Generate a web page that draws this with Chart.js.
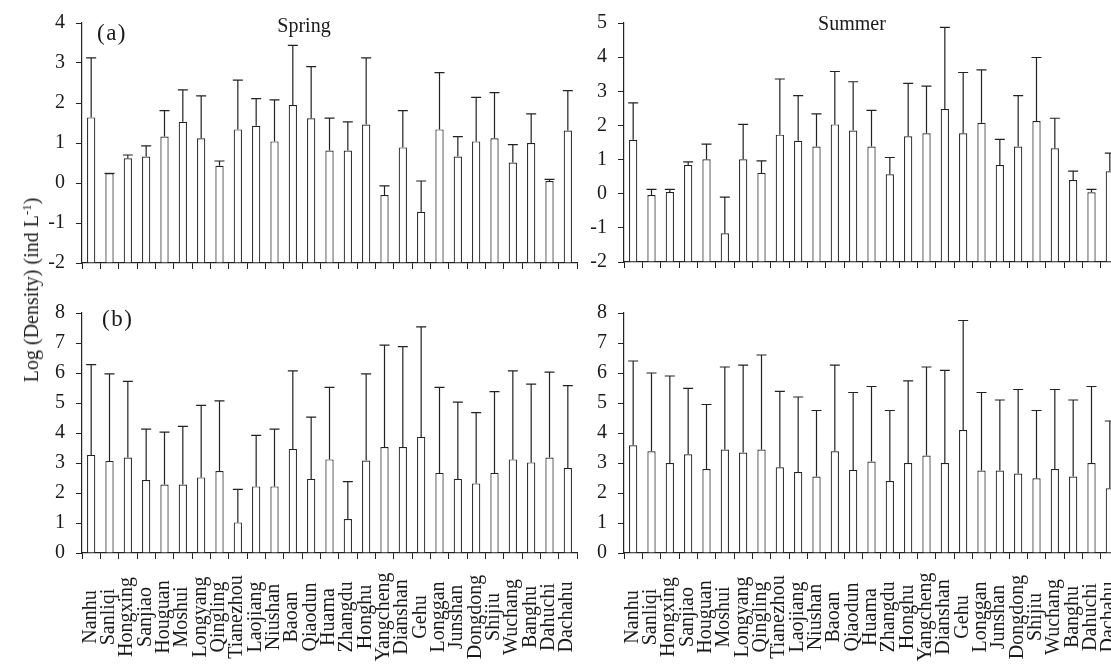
<!DOCTYPE html>
<html>
<head>
<meta charset="utf-8">
<script src="https://cdn.jsdelivr.net/npm/chart.js@4.4.1/dist/chart.umd.min.js"></script>
<style>
  body { margin: 0; width: 1111px; height: 664px; overflow: hidden; background: #fff; position: relative;
         font-family: 'Liberation Serif', serif; color: #1a1a1a; }
  canvas { position: absolute; }
  .txt { position: absolute; font-size: 20px; line-height: 20px; white-space: nowrap; }
  .tag { font-size: 23px; line-height: 23px; letter-spacing: 1.5px; }
  .ytitle { position: absolute; left: 31px; top: 290px; font-size: 20px; line-height: 20px; white-space: nowrap;
            transform: translate(-50%, -50%) rotate(-90deg); }
  .ytitle sup { font-size: 13px; vertical-align: 7px; line-height: 0; }
</style>
</head>
<body>
<canvas id="springA" width="600" height="290" style="left:0;top:0"></canvas>
<canvas id="summerA" width="600" height="290" style="left:542px;top:0"></canvas>
<canvas id="springB" width="600" height="374" style="left:0;top:290px"></canvas>
<canvas id="summerB" width="600" height="374" style="left:542px;top:290px"></canvas>

<div class="txt tag" style="left:97px;top:21px">(a)</div>
<div class="txt tag" style="left:102px;top:307px">(b)</div>
<div class="txt" style="left:304px;top:15px;transform:translateX(-50%)">Spring</div>
<div class="txt" style="left:852px;top:13px;transform:translateX(-50%)">Summer</div>
<div class="ytitle">Log (Density) (ind L<sup>-1</sup>)</div>

<script>
// sampling sites (same order in every panel)
const sites = ['Nanhu', 'Sanliqi', 'Hongxing', 'Sanjiao', 'Houguan', 'Moshui', 'Longyang', 'Qingling',
    'Tianezhou', 'Laojiang', 'Niushan', 'Baoan', 'Qiaodun', 'Huama', 'Zhangdu', 'Honghu', 'Yangcheng',
    'Dianshan', 'Gehu', 'Longgan', 'Junshan', 'Dongdong', 'Shijiu', 'Wuchang', 'Banghu', 'Dahuchi', 'Dachahu'];

// (a) mean and SD, spring / summer
const springA = [1.64, 0.24, 0.62, 0.66, 1.16, 1.53, 1.12, 0.43, 1.34, 1.43, 1.04, 1.95, 1.62, 0.81,
    0.81, 1.46, -0.30, 0.89, -0.72, 1.34, 0.66, 1.04, 1.12, 0.51, 1.00, 0.05, 1.31];
const springASd = [1.49, 0.00, 0.08, 0.27, 0.65, 0.80, 1.06, 0.12, 1.23, 0.68, 1.04, 1.49, 1.29, 0.81,
    0.72, 1.67, 0.23, 0.92, 0.77, 1.42, 0.50, 1.10, 1.14, 0.45, 0.73, 0.04, 1.00];
const summerA = [1.58, -0.04, 0.05, 0.84, 1.01, -1.16, 1.01, 0.61, 1.73, 1.55, 1.38, 2.03, 1.85, 1.38,
    0.57, 1.68, 1.77, 2.48, 1.77, 2.08, 0.84, 1.38, 2.13, 1.33, 0.40, 0.04, 0.66];
const summerASd = [1.08, 0.17, 0.08, 0.09, 0.44, 1.06, 1.02, 0.35, 1.63, 1.32, 0.96, 1.55, 1.43, 1.06,
    0.49, 1.55, 1.38, 2.39, 1.78, 1.55, 0.75, 1.49, 1.86, 0.88, 0.26, 0.09, 0.53];

// (b) mean and SD, spring / summer
const springB = [3.27, 3.07, 3.18, 2.43, 2.28, 2.28, 2.52, 2.73, 1.02, 2.22, 2.22, 3.47, 2.47, 3.12,
    1.13, 3.08, 3.53, 3.53, 3.87, 2.67, 2.47, 2.32, 2.67, 3.12, 3.02, 3.18, 2.83];
const springBSd = [3.01, 2.90, 2.54, 1.70, 1.75, 1.94, 2.40, 2.34, 1.10, 1.70, 1.91, 2.60, 2.06, 2.40,
    1.25, 2.89, 3.40, 3.35, 3.67, 2.85, 2.56, 2.36, 2.71, 2.95, 2.61, 2.85, 2.75];
const summerB = [3.59, 3.39, 3.00, 3.29, 2.80, 3.45, 3.35, 3.45, 2.86, 2.70, 2.55, 3.39, 2.77, 3.05,
    2.40, 3.00, 3.25, 3.00, 4.10, 2.75, 2.75, 2.65, 2.49, 2.80, 2.55, 3.00, 2.16];
const summerBSd = [2.81, 2.61, 2.90, 2.20, 2.15, 2.75, 2.91, 3.15, 2.53, 2.50, 2.20, 2.87, 2.58, 2.50,
    2.35, 2.74, 2.95, 3.09, 3.65, 2.60, 2.35, 2.80, 2.26, 2.65, 2.55, 2.55, 2.24];

Chart.defaults.font.family = "'Liberation Serif', serif";
Chart.defaults.font.size = 20;
Chart.defaults.color = '#1a1a1a';

const ink = '#222';

// upper error whisker with a cap, drawn on the value scale
const errorBars = {
    id: 'errorBars',
    afterDatasetsDraw(chart, args, opts) {
        const ctx = chart.ctx, y = chart.scales.y;
        const vals = chart.data.datasets[0].data;
        ctx.save();
        ctx.strokeStyle = ink;
        ctx.lineWidth = 1.2;
        chart.getDatasetMeta(0).data.forEach((bar, i) => {
            const top = y.getPixelForValue(vals[i] + opts.sd[i]);
            ctx.beginPath();
            ctx.moveTo(bar.x, bar.y);
            ctx.lineTo(bar.x, top);
            ctx.moveTo(bar.x - 5, top);
            ctx.lineTo(bar.x + 5, top);
            ctx.stroke();
        });
        ctx.restore();
    }
};

// vertical site names, centred under each category
const siteLabels = {
    id: 'siteLabels',
    afterDraw(chart, args, opts) {
        if (!opts.show) return;
        const ctx = chart.ctx, x = chart.scales.x;
        ctx.save();
        ctx.font = "20px 'Liberation Serif'";
        ctx.fillStyle = '#1a1a1a';
        ctx.textAlign = 'center';
        chart.data.labels.forEach((s, i) => {
            ctx.save();
            ctx.translate(x.getPixelForTick(i) + 4.5, x.top + 64);
            ctx.rotate(-Math.PI / 2);
            ctx.fillText(s, 0, 0);
            ctx.restore();
        });
        ctx.restore();
    }
};

function makePanel(id, values, sd, yMin, yMax, padTop, xHeight, showSites) {
    const ctx = document.getElementById(id).getContext('2d');
    return new Chart(ctx, {
        type: 'bar',
        data: {
            labels: sites,
            datasets: [{
                data: values,
                base: yMin,
                backgroundColor: '#fff',
                borderColor: ink,
                borderWidth: 1.2,
                barPercentage: 0.45,
                categoryPercentage: 1
            }]
        },
        options: {
            responsive: false,
            animation: false,
            layout: { padding: { top: padTop, right: 23, left: 0, bottom: 0 } },
            plugins: {
                legend: { display: false },
                tooltip: { enabled: false },
                errorBars: { sd: sd },
                siteLabels: { show: showSites }
            },
            scales: {
                x: {
                    grid: { drawOnChartArea: false, tickLength: 6, color: ink, offset: true },
                    border: { color: ink, width: 1.2 },
                    ticks: { display: false },
                    afterFit(s) { s.height = xHeight; }
                },
                y: {
                    min: yMin,
                    max: yMax,
                    ticks: { stepSize: 1, padding: 11 },
                    grid: { drawOnChartArea: false, tickLength: 6, color: ink },
                    border: { color: ink, width: 1.2 },
                    afterFit(s) { s.width = 82; }
                }
            }
        },
        plugins: [errorBars, siteLabels]
    });
}

makePanel('springA', springA, springASd, -2, 4, 23, 27, false);
makePanel('summerA', summerA, summerASd, -2, 5, 21, 28, false);
makePanel('springB', springB, springBSd, 0, 8, 20, 111, true);
makePanel('summerB', summerB, summerBSd, 0, 8, 19, 111, true);
</script>
</body>
</html>
